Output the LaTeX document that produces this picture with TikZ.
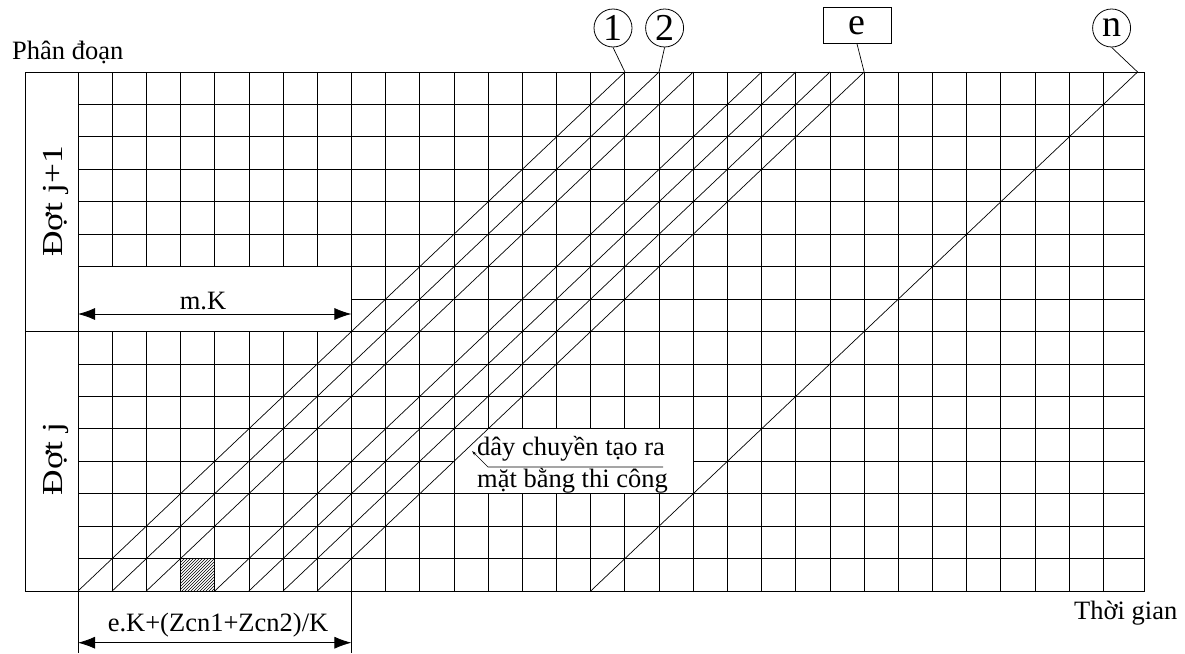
\documentclass[tikz,border=0pt]{standalone}
\usepackage{fontspec}
\setmainfont{Liberation Serif}
\usetikzlibrary{arrows.meta,patterns}
\begin{document}
\begin{tikzpicture}[x=1pt,y=-1pt,
  gridline/.style={line width=0.8pt},
  txt/.style={inner sep=0pt,font=\fontsize{26.5}{32}\selectfont},
  sidetxt/.style={inner sep=0pt,font=\fontsize{29}{32}\selectfont},
  circlabel/.style={circle,draw,line width=0.8pt,minimum size=38pt,inner sep=0pt,font=\fontsize{38}{40}\selectfont},
  boxlabel/.style={rectangle,draw,line width=0.8pt,minimum width=68pt,minimum height=36pt,inner sep=0pt,font=\fontsize{38}{40}\selectfont},
  dimarrow/.style={line width=0.8pt,{Latex[length=17pt,width=12pt]}-{Latex[length=17pt,width=12pt]}},
]
\useasboundingbox (0,0) rectangle (1185,653);
\def\cw{34.18}
\def\rh{32.4375}
% vertical grid lines
\foreach \k in {1,...,7}{
  \draw[gridline] ({78+\k*\cw},72) -- ({78+\k*\cw},{72+6*\rh});
  \draw[gridline] ({78+\k*\cw},{72+8*\rh}) -- ({78+\k*\cw},591);
}
\foreach \k in {8,...,30}{
  \draw[gridline] ({78+\k*\cw},72) -- ({78+\k*\cw},591);
}
% horizontal grid lines
\foreach \r in {1,...,6,9,10,...,15}{
  \draw[gridline] (78,{72+\r*\rh}) -- (1144,{72+\r*\rh});
}
\draw[gridline] ({78+8*\cw},{72+7*\rh}) -- (1144,{72+7*\rh});
\draw[gridline] (25,{72+8*\rh}) -- (1144,{72+8*\rh});
% frame
\draw[gridline] (25,72) rectangle (1144,591);
\draw[gridline] (78,72) -- (78,591);
% white label area
\fill[white] ({78+11*\cw},{72+11*\rh}) rectangle ({78+18*\cw},{72+13*\rh});
\draw[gridline] ({78+11*\cw},{72+11*\rh}) rectangle ({78+18*\cw},{72+13*\rh});
% hatched cell
\draw[gridline,pattern=north east lines] ({78+3*\cw},{72+15*\rh}) rectangle ({78+4*\cw},591);
% diagonals
\foreach \s in {0,1,2,4,5,6,7,15}{
  \draw[line width=0.7pt] ({78+\s*\cw},591) -- ({78+(\s+16)*\cw},72);
}
% top labels
\node[circlabel] (c1) at (613,28) {1};
\node[circlabel] (c2) at (664.6,28) {2};
\node[boxlabel] (ce) at (857,25.5) {e};
\node[circlabel] (cn) at (1111.6,28) {n};
\coordinate (t1) at ({78+16*\cw},72);
\coordinate (t2) at ({78+17*\cw},72);
\coordinate (te) at ({78+23*\cw},72);
\coordinate (tn) at ({78+31*\cw},72);
\draw[line width=0.7pt] (c1.south) -- (t1);
\draw[line width=0.7pt] (c2.south) -- (t2);
\draw[line width=0.7pt] (ce.south) -- (te);
\draw[line width=0.7pt] (cn.south) -- (tn);
% axis texts
\node[txt,anchor=base west] (pd) at (12,59) {Phân đoạn};
\node[txt,anchor=base west] (tg) at (1074,619) {Thời gian};
\node[sidetxt,anchor=base,rotate=90] (d1) at (62,201.5) {\scalebox{1.22}[1]{Đợt j+1}};
\node[sidetxt,anchor=base,rotate=90] (d0) at (62,459) {\scalebox{1.22}[1]{Đợt j}};
% m.K dimension
\coordinate (mk1) at (78,314);
\coordinate (mk2) at ({78+8*\cw},314);
\draw[dimarrow] (mk1) -- (mk2);
\node[txt,anchor=base] (mk) at (203,309) {m.K};
% bottom dimension
\coordinate (eb1) at (78,591);
\coordinate (eb2) at ({78+8*\cw},591);
\coordinate (ee1) at (78,653);
\coordinate (ee2) at ({78+8*\cw},653);
\draw[gridline] (eb1) -- (ee1);
\draw[gridline] (eb2) -- (ee2);
\coordinate (ea1) at (78,642.7);
\coordinate (ea2) at ({78+8*\cw},642.7);
\draw[dimarrow] (ea1) -- (ea2);
\node[txt,anchor=base] (ek) at (218,631) {e.K+(Zcn1+Zcn2)/K};
% label for diagonal
\node[txt,anchor=base west] (l1) at (477,455) {dây chuyền tạo ra};
\node[txt,anchor=base west] (l2) at (477,487) {mặt bằng thi công};
\coordinate (ul) at (488,467);
\coordinate (ulend) at (663,467);
\coordinate (tip) at (472,451);
\draw[line width=0.7pt,-{Stealth[length=5pt,width=3pt]}] (ulend) -- (ul) -- (tip);
\end{tikzpicture}
\end{document}
